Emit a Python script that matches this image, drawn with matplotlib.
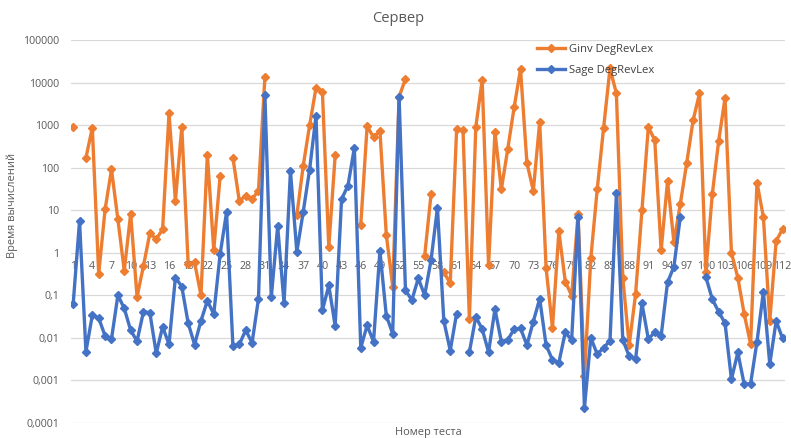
import matplotlib
matplotlib.use('Agg')
import matplotlib.pyplot as plt
import numpy as np

plt.rcParams['font.family'] = ['Open Sans', 'DejaVu Sans']

nan = np.nan

tests = np.arange(1, 113)

# Ginv DegRevLex timings (nan = no result)
ginv = [
    920, nan, 172, 870, 0.32, 10.5, 92, 6.1, 0.38, 8.3,
    0.091, 0.49, 2.86, 2.1, 3.55, 1900, 16.7, 920, 0.53, 0.59,
    0.1, 203, 1.16, 64, nan, 172, 16.5, 22, 18.3, 29,
    13600, nan, nan, nan, nan, 7.6, 112, 1000, 7600, 6150,
    1.38, 195, nan, nan, nan, 4.5, 955, 520, 740, 2.65,
    0.16, 4700, 12300, nan, nan, 0.83, 24, nan, 0.35, 0.19,
    800, 780, 0.027, 910, 11500, 0.51, 690, 31, 275, 2630,
    21000, 131, 29, 1200, 0.44, 0.017, 3.2, 0.21, 0.098, 8.0,
    0.00126, 0.75, 31, 870, 21700, 5600, 0.26, 0.0067, 0.105, 10.1,
    910, 450, 1.13, 48, 1.78, 14, 129, 1300, 5600, 0.36,
    23.5, 425, 4400, 1.0, 0.26, 0.036, 0.0071, 45, 6.9, 0.025,
    1.9, 3.6,
]

# Sage DegRevLex timings
sage = [
    0.061, 5.6, 0.0047, 0.034, 0.029, 0.011, 0.0093, 0.1, 0.049, 0.015,
    0.0083, 0.041, 0.039, 0.0043, 0.018, 0.0070, 0.26, 0.16, 0.022, 0.0069,
    0.025, 0.074, 0.036, 0.93, 8.9, 0.0063, 0.0070, 0.015, 0.0076, 0.083,
    5300, 0.089, 4.2, 0.065, 83, 1.05, 9.2, 91, 1670, 0.044,
    0.17, 0.019, 18.3, 38, 295, 0.0058, 0.0195, 0.0081, 1.1, 0.033,
    0.0125, 4700, 0.13, 0.077, 0.25, 0.1, 0.67, 11.4, 0.025, 0.0050,
    0.037, nan, 0.0046, 0.031, 0.016, 0.0046, 0.047, 0.0081, 0.0089, 0.016,
    0.0166, 0.0067, 0.024, 0.083, 0.0067, 0.0030, 0.0026, 0.0134, 0.0089, 7.0,
    0.00022, 0.010, 0.0041, 0.0058, 0.0085, 25, 0.0089, 0.0037, 0.0031, 0.064,
    0.0093, 0.0134, 0.011, 0.2, 0.47, 7.0, nan, nan, nan, 0.27,
    0.081, 0.041, 0.022, 0.00105, 0.0045, 0.00080, 0.00083, 0.0081, 0.12, 0.0024,
    0.025, 0.0096,
]

ytick_vals = [1e-4, 1e-3, 1e-2, 1e-1, 1, 10, 100, 1000, 10000, 100000]
ytick_labels = ['0,0001', '0,001', '0,01', '0,1', '1', '10', '100', '1000', '10000', '100000']

txt = '#595959'
orange = '#ED7D31'
blue = '#4472C4'

fig = plt.figure(figsize=(7.91, 4.38), dpi=100)
ax = fig.add_axes([0.0894, 0.0349, 0.9030, 0.8731])

ax.plot(tests, ginv, color=orange, lw=2.4, marker='D', ms=4.3,
        label='Ginv DegRevLex', zorder=3)
ax.plot(tests, sage, color=blue, lw=2.4, marker='D', ms=4.3,
        label='Sage DegRevLex', zorder=4)

ax.set_yscale('log')
ax.set_ylim(1e-4, 1e5)
ax.set_xlim(1 - 0.38, 112 + 0.38)
ax.set_yticks(ytick_vals)
ax.set_yticklabels(ytick_labels)
ax.yaxis.set_minor_locator(matplotlib.ticker.NullLocator())
ax.grid(axis='y', color='#D9D9D9', lw=0.9)
ax.set_axisbelow(True)

# category axis crosses at 1, labels every third test
ax.spines['bottom'].set_position(('data', 1))
for s in ['top', 'right', 'left', 'bottom']:
    ax.spines[s].set_visible(False)
ax.set_xticks(tests[::3])
ax.set_xticklabels([str(t) for t in tests[::3]])
ax.tick_params(axis='x', length=0, pad=6, labelsize=7.7, colors=txt)
ax.tick_params(axis='y', length=0, pad=8, labelsize=7.7, colors=txt)

fig.text(0.504, 0.958, 'Сервер', ha='center', va='center', fontsize=10.5, color=txt)
fig.text(0.541, 0.012, 'Номер теста', ha='center', va='center', fontsize=7.9, color=txt)
fig.text(0.016, 0.53, 'Время вычислений', ha='center', va='center', rotation=90,
         fontsize=7.9, color=txt)

leg = ax.legend(loc='upper left', bbox_to_anchor=(0.672, 0.912),
                bbox_transform=fig.transFigure, frameon=False,
                fontsize=8.1, handlelength=2.5, handletextpad=0.3,
                labelspacing=0.9, borderpad=0)
for t in leg.get_texts():
    t.set_color('#404040')

fig.savefig('out.png', dpi=100)
